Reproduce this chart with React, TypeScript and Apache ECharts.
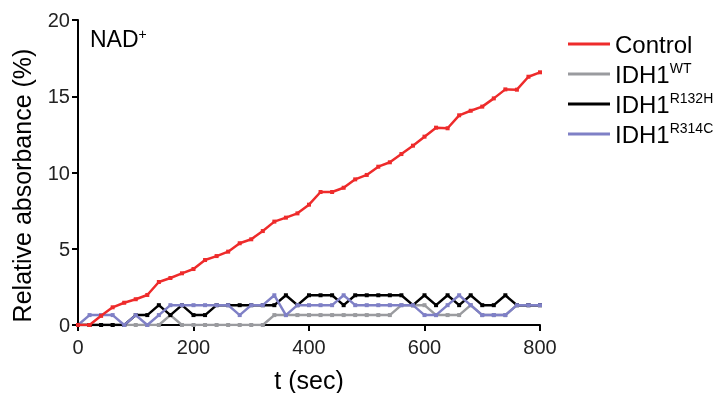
import React, { useEffect, useRef } from "react";
import * as echarts from "echarts";

const times = [0, 20, 40, 60, 80, 100, 120, 140, 160, 180, 200, 220, 240, 260, 280, 300, 320, 340, 360, 380, 400, 420, 440, 460, 480, 500, 520, 540, 560, 580, 600, 620, 640, 660, 680, 700, 720, 740, 760, 780, 800];

const control = [0, 0, 0.6, 1.16, 1.46, 1.69, 1.97, 2.82, 3.08, 3.39, 3.67, 4.26, 4.52, 4.81, 5.36, 5.62, 6.16, 6.78, 7.04, 7.32, 7.89, 8.72, 8.72, 9.0, 9.55, 9.84, 10.38, 10.67, 11.21, 11.76, 12.35, 12.94, 12.9, 13.75, 14.05, 14.32, 14.86, 15.45, 15.43, 16.28, 16.57];

const idh1WT = [0, 0, 0, 0, 0, 0, 0, 0, 0.65, 0, 0, 0, 0, 0, 0, 0, 0, 0.65, 0.65, 0.65, 0.65, 0.65, 0.65, 0.65, 0.65, 0.65, 0.65, 0.65, 1.3, 1.3, 1.3, 0.65, 0.65, 0.65, 1.3, 0.65, 0.65, 0.65, 1.3, 1.3, 1.3];

const idh1R132H = [0, 0, 0, 0, 0, 0.65, 0.65, 1.3, 0.65, 1.3, 0.65, 0.65, 1.3, 1.3, 1.3, 1.3, 1.3, 1.3, 1.95, 1.3, 1.95, 1.95, 1.95, 1.3, 1.95, 1.95, 1.95, 1.95, 1.95, 1.3, 1.95, 1.3, 1.95, 1.3, 1.95, 1.3, 1.3, 1.95, 1.3, 1.3, 1.3];

const idh1R314C = [0, 0.65, 0.65, 0.65, 0, 0.65, 0, 0.65, 1.3, 1.3, 1.3, 1.3, 1.3, 1.3, 0.65, 1.3, 1.3, 1.95, 0.65, 1.3, 1.3, 1.3, 1.3, 1.95, 1.3, 1.3, 1.3, 1.3, 1.3, 1.3, 0.65, 0.65, 1.3, 1.95, 1.3, 0.65, 0.65, 0.65, 1.3, 1.3, 1.3];

const xTicks = [0, 200, 400, 600, 800];
const yTicks = [0, 5, 10, 15, 20];

const seriesNames = ["Control", "IDH1WT", "IDH1R132H", "IDH1R314C"];
const seriesColors = ["#ee2b2b", "#9a9b9f", "#000000", "#7f80c6"];
const seriesValues = [control, idh1WT, idh1R132H, idh1R314C];

const legendLabels: Record<string, string> = {
  Control: "{n|Control}",
  IDH1WT: "{n|IDH1}{s|WT}",
  IDH1R132H: "{n|IDH1}{s|R132H}",
  IDH1R314C: "{n|IDH1}{s|R314C}",
};

const FONT = "'Liberation Sans', Arial, Helvetica, sans-serif";

export default function App() {
  const ref = useRef<HTMLDivElement>(null);
  useEffect(() => {
    if (!ref.current) return;
    const chart = echarts.init(ref.current, undefined, { renderer: "svg" });
    const axisLine = { show: true, lineStyle: { color: "#000", width: 2 } };
    chart.setOption({
      animation: false,
      textStyle: { fontFamily: FONT },
      grid: { left: 78, right: 180, top: 20, bottom: 68, containLabel: false, outerBoundsMode: "none" },
      xAxis: {
        type: "value",
        min: xTicks[0],
        max: xTicks[xTicks.length - 1],
        interval: 200,
        axisLine,
        axisTick: { show: true, length: 6, lineStyle: { color: "#000", width: 2 } },
        axisLabel: { fontSize: 20, color: "#222", margin: 12, fontFamily: FONT },
        splitLine: { show: false },
        name: "t (sec)",
        nameLocation: "middle",
        nameGap: 42,
        nameTextStyle: { fontSize: 25, color: "#000", fontFamily: FONT },
      },
      yAxis: {
        type: "value",
        min: yTicks[0],
        max: yTicks[yTicks.length - 1],
        interval: 5,
        axisLine,
        axisTick: { show: true, length: 6, lineStyle: { color: "#000", width: 2 } },
        axisLabel: { fontSize: 20, color: "#222", margin: 8, fontFamily: FONT },
        splitLine: { show: false },
        name: "Relative absorbance (%)",
        nameLocation: "middle",
        nameGap: 44,
        nameTextStyle: { fontSize: 25, color: "#000", fontFamily: FONT, padding: [0, 26, 0, 0] },
      },
      legend: {
        orient: "vertical",
        left: 563,
        top: 27,
        itemWidth: 42,
        itemHeight: 3,
        itemGap: 5,
        icon: "rect",
        data: seriesNames,
        formatter: (name: string) => legendLabels[name],
        textStyle: {
          fontFamily: FONT,
          rich: {
            n: { fontSize: 24, color: "#000", fontFamily: FONT },
            s: { fontSize: 14, color: "#000", fontFamily: FONT, padding: [0, 0, 12, 0] },
          },
        },
      },
      graphic: [
        {
          type: "text",
          left: 90,
          top: 27,
          style: {
            text: "{a|NAD}{b|+}",
            rich: {
              a: { fontSize: 23, fill: "#000", fontFamily: FONT },
              b: { fontSize: 14, fill: "#000", fontFamily: FONT, padding: [0, 0, 10, 0] },
            },
          },
        },
      ],
      series: seriesNames.map((name, i) => ({
        name,
        type: "line",
        data: times.map((t, j) => [t, seriesValues[i][j]]),
        symbol: "rect",
        symbolSize: 4,
        showSymbol: true,
        itemStyle: { color: seriesColors[i] },
        lineStyle: { color: seriesColors[i], width: 2.5 },
        z: i === 0 ? 5 : 2 + i * 0.1,
      })),
    });
    return () => chart.dispose();
  }, []);
  return (
    <div style={{ position: "fixed", left: 0, top: 0, width: 720, height: 393, overflow: "hidden" }}>
      <div ref={ref} style={{ width: 720, height: 393, overflow: "hidden" }} />
    </div>
  );
}
